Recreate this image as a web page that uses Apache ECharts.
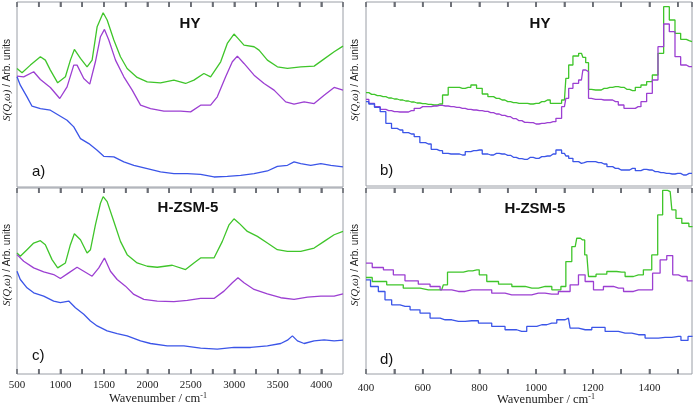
<!DOCTYPE html>
<html>
<head>
<meta charset="utf-8">
<script src="https://cdn.jsdelivr.net/npm/echarts@6/dist/echarts.min.js"></script>
<style>
html,body{margin:0;padding:0;background:#fff;}
#c{width:695px;height:406px;}
</style>
</head>
<body>
<div id="c"></div>
<script>
// ---- Data (wavenumber [cm-1], S(Q,w) arbitrary units) ----
// Panel a) HY, wide range
const aGreen = [[500,355],[558,342],[654,365],[769,390],[826,380],[884,350],[968,312],[1057,330],[1114,380],[1160,412],[1230,385],[1306,360],[1364,380],[1422,480],[1491,522],[1537,500],[1614,440],[1690,390],[1767,355],[1882,328],[1998,315],[2151,312],[2305,320],[2439,310],[2535,320],[2650,340],[2727,330],[2843,375],[2919,430],[2996,458],[3042,445],[3111,425],[3227,420],[3284,410],[3380,380],[3495,360],[3611,355],[3764,360],[3918,362],[4014,380],[4148,405],[4250,422]];
const aPurple = [[500,332],[577,330],[692,345],[769,322],[884,298],[992,265],[1076,300],[1153,365],[1191,365],[1268,325],[1337,308],[1402,375],[1460,450],[1506,472],[1556,440],[1633,380],[1729,330],[1825,290],[1921,245],[2036,235],[2190,227],[2382,227],[2497,225],[2612,245],[2727,245],[2804,270],[2900,330],[2977,375],[3035,392],[3111,370],[3227,335],[3342,310],[3457,290],[3591,255],[3687,248],[3803,255],[3918,250],[4033,275],[4148,298],[4250,290]];
const aBlue = [[500,330],[538,305],[615,270],[673,242],[769,235],[884,230],[980,215],[1076,200],[1153,180],[1230,145],[1326,130],[1422,110],[1498,92],[1614,90],[1729,75],[1844,65],[1998,55],[2151,45],[2305,40],[2459,40],[2612,38],[2766,30],[2919,32],[3073,35],[3227,40],[3380,48],[3495,62],[3611,65],[3687,75],[3764,70],[3879,65],[3995,70],[4110,65],[4250,60]];
// Panel c) H-ZSM-5, wide range
const cGreen = [[500,365],[538,355],[615,375],[692,395],[769,402],[826,390],[903,345],[968,320],[1057,335],[1114,390],[1160,423],[1230,405],[1306,365],[1345,375],[1402,450],[1460,515],[1491,535],[1537,520],[1614,460],[1690,400],[1767,360],[1882,335],[1998,325],[2113,322],[2286,328],[2439,315],[2535,335],[2612,350],[2766,350],[2862,400],[2939,450],[2996,468],[3054,455],[3150,430],[3265,415],[3380,395],[3495,375],[3611,370],[3764,370],[3918,380],[4033,400],[4148,420],[4250,430]];
const cPurple = [[500,360],[577,340],[692,320],[807,308],[922,300],[999,288],[1095,305],[1191,322],[1268,310],[1364,295],[1441,320],[1506,350],[1575,310],[1652,285],[1748,265],[1844,240],[1959,225],[2113,220],[2305,218],[2459,222],[2612,228],[2766,228],[2881,250],[2977,275],[3042,290],[3111,275],[3227,255],[3380,242],[3534,230],[3687,225],[3841,232],[3995,235],[4148,235],[4250,242]];
const cBlue = [[500,310],[538,285],[615,260],[692,245],[807,235],[922,220],[999,215],[1095,220],[1172,200],[1268,180],[1345,160],[1422,145],[1537,130],[1652,122],[1767,115],[1921,100],[2036,92],[2228,85],[2420,85],[2612,78],[2804,75],[2996,80],[3188,80],[3380,85],[3534,92],[3611,102],[3668,115],[3726,100],[3803,92],[3918,100],[4033,103],[4148,100],[4250,102]];
// Panel b) HY, low range (binned spectra)
const bWave = [400,420,440,460,480,500,520,540,560,580,600,620,640,660,680,700,720,740,760,780,800,820,840,860,880,900,920,940,960,980,1000,1020,1040,1060,1080,1100,1110,1120,1140,1160,1170,1180,1190,1200,1220,1240,1260,1280,1300,1320,1340,1360,1380,1400,1420,1440,1460,1480,1500,1520,1540,1550];
const bGreen = [280,275,271,268,264,261,258,255,252,249,247,245,243,246,273,296,296,293,296,303,293,276,268,263,258,253,250,248,248,246,248,253,258,248,248,258,323,363,390,398,386,370,290,288,288,293,296,298,296,290,286,296,303,313,333,398,538,498,458,440,436,433];
const bPurple = [260,248,238,230,226,223,222,222,226,233,238,238,240,242,240,238,236,233,230,228,226,224,220,216,212,208,202,196,191,190,186,188,190,193,203,238,263,293,308,318,348,343,263,260,260,258,258,253,243,233,233,238,253,278,318,418,486,463,388,363,358,358];
const bBlue = [253,246,236,223,188,173,168,160,156,148,130,126,110,106,98,96,96,93,103,106,108,96,93,98,96,92,86,82,80,86,83,88,90,96,108,98,90,83,73,68,70,73,73,73,70,66,58,53,48,48,53,46,50,48,43,40,38,36,38,33,38,38];
// Panel d) H-ZSM-5, low range
const dGreen = [[400,290],[444,278],[502,268],[561,258],[620,253],[667,253],[679,268],[696,306],[726,306],[761,310],[791,313],[808,298],[844,278],[891,270],[938,263],[985,258],[1032,263],[1079,253],[1096,263],[1114,338],[1138,383],[1149,408],[1164,403],[1179,358],[1191,293],[1232,300],[1267,308],[1302,306],[1326,293],[1361,298],[1396,313],[1420,358],[1438,478],[1455,552],[1473,548],[1485,493],[1502,468],[1526,453],[1552,443]];
const dPurple = [[400,333],[444,320],[479,313],[514,298],[561,280],[608,270],[644,263],[679,253],[726,248],[773,253],[820,253],[867,243],[914,238],[961,238],[1008,243],[1055,240],[1102,248],[1138,268],[1161,298],[1185,278],[1220,253],[1255,263],[1291,258],[1326,248],[1361,253],[1396,253],[1426,303],[1449,343],[1473,356],[1491,298],[1514,293],[1552,280]];
const dBlue = [[400,283],[432,263],[455,248],[479,223],[502,208],[538,203],[573,193],[608,183],[644,168],[679,163],[726,158],[773,160],[820,153],[867,143],[914,133],[949,128],[985,143],[1020,148],[1055,153],[1091,163],[1114,168],[1126,138],[1173,133],[1220,140],[1267,128],[1314,123],[1361,118],[1408,108],[1455,110],[1502,113],[1520,101],[1552,113]];

// Axis ticks (major + minor) and labels
const wideTicks = [750,1000,1250,1500,1750,2000,2250,2500,2750,3000,3250,3500,3750,4000];
const lowTicks = [500,600,700,800,900,1000,1100,1200,1300,1400,1500];
const wideLabels = [500,1000,1500,2000,2500,3000,3500,4000];
const lowLabels = [400,600,800,1000,1200,1400];

const panelTitles = ['HY', 'HY', 'H-ZSM-5', 'H-ZSM-5'];
const panelLetters = ['a)', 'b)', 'c)', 'd)'];
const wideRange = [500, 4250];
const lowRange = [400, 1550];

// ---- Styles ----
const GREEN = '#3fc52a', PURPLE = '#9c3fd2', BLUE = '#3b55e8';
const FRAME = '#9a9ea6';
const TICK = '#6a6d74';
const TICK_W = 1.6;
const TICK_L = 5;
const SERIF = '"Liberation Serif","DejaVu Serif",serif';
const SANS = '"Liberation Sans",Arial,sans-serif';

const chart = echarts.init(document.getElementById('c'), null, {renderer: 'canvas'});

const grids = [
  {left: 17, top: 2, width: 326, height: 185},
  {left: 366, top: 2, width: 326, height: 184},
  {left: 17, top: 188, width: 326, height: 186},
  {left: 366, top: 188, width: 326, height: 186}
].map(g => Object.assign(g, {show: true, borderColor: FRAME, borderWidth: 1, backgroundColor: 'transparent'}));

const yMax = [554, 552, 561, 559];
const isWide = [true, false, true, false];
const hasBottomTicks = [false, false, true, true];

function xMainFor(gi) {
  const wide = isWide[gi];
  const range = wide ? wideRange : lowRange;
  const labels = wide ? wideLabels : lowLabels;
  const show = hasBottomTicks[gi];
  return {
    type: 'value', gridIndex: gi, position: 'bottom', min: range[0], max: range[1], interval: wide ? 250 : 100,
    axisLine: {show: false, onZero: false},
    axisTick: {show: show, inside: true, length: TICK_L, lineStyle: {color: TICK, width: TICK_W}},
    axisLabel: {show: show, margin: wide ? 6 : 9, fontFamily: SERIF, fontSize: 11, color: '#222',
      showMaxLabel: false,
      formatter: v => (labels.indexOf(v) >= 0 ? String(v) : '')},
    splitLine: {show: false}
  };
}
function xTopFor(gi) {
  const wide = isWide[gi];
  const range = wide ? wideRange : lowRange;
  return {
    type: 'value', gridIndex: gi, position: 'top', min: range[0], max: range[1], interval: wide ? 250 : 100,
    axisLine: {show: false, onZero: false},
    axisTick: {show: true, inside: true, length: TICK_L, lineStyle: {color: TICK, width: TICK_W}},
    axisLabel: {show: false}, splitLine: {show: false}
  };
}
const xAxis = [];
[0, 1, 2, 3].forEach(gi => { xAxis.push(xMainFor(gi)); xAxis.push(xTopFor(gi)); });
const yAxis = yMax.map((m, i) => ({type: 'value', gridIndex: i, min: 0, max: m, show: false}));

function zip(xs, ys) { return xs.map((x, k) => [x, ys[k]]); }

function line(data, gi, color, step) {
  return {
    type: 'line', data: data, xAxisIndex: gi * 2, yAxisIndex: gi,
    showSymbol: false, symbol: 'none', step: step ? 'middle' : false,
    lineStyle: {color: color, width: 1.3}, silent: true, animation: false, clip: true
  };
}

// Inside ticks on top (and bottom for c, d), positioned through the axis scale
function tickSeries(gi) {
  const ticks = isWide[gi] ? wideTicks : lowTicks;
  const ymax = yMax[gi];
  const bottom = hasBottomTicks[gi];
  return {
    type: 'custom', xAxisIndex: gi * 2, yAxisIndex: gi, silent: true, clip: false, z: 5, animation: false,
    data: ticks.map(v => [v, 0]),
    encode: {x: 0, y: 1},
    renderItem: function (params, api) {
      const xv = api.value(0);
      const pTop = api.coord([xv, ymax]);
      const pBot = api.coord([xv, 0]);
      const x = pTop[0];
      const children = [{type: 'line', shape: {x1: x, y1: pTop[1], x2: x, y2: pTop[1] + TICK_L},
        style: {stroke: TICK, lineWidth: TICK_W, fill: null}}];
      if (bottom) {
        children.push({type: 'line', shape: {x1: x, y1: pBot[1], x2: x, y2: pBot[1] - TICK_L},
          style: {stroke: TICK, lineWidth: TICK_W, fill: null}});
      }
      return {type: 'group', children: children};
    }
  };
}

const series = [
  line(aGreen, 0, GREEN, false), line(aPurple, 0, PURPLE, false), line(aBlue, 0, BLUE, false),
  line(zip(bWave, bGreen), 1, GREEN, true), line(zip(bWave, bPurple), 1, PURPLE, true), line(zip(bWave, bBlue), 1, BLUE, true),
  line(cGreen, 2, GREEN, false), line(cPurple, 2, PURPLE, false), line(cBlue, 2, BLUE, false),
  line(dGreen, 3, GREEN, true), line(dPurple, 3, PURPLE, true), line(dBlue, 3, BLUE, true),
  tickSeries(0), tickSeries(1), tickSeries(2), tickSeries(3)
];

const titlePos = [[190, 24], [540, 24], [188, 208], [535, 209]];
const letterPos = [[32, 172], [380, 171], [32, 356], [380, 360]];
const ylabPos = [[7, 80], [355, 80], [7, 265], [355, 265]];
const xTitlePos = [[158, 399], [546, 400]];

const graphic = [];
for (let i = 0; i < 4; i++) {
  graphic.push({type: 'text', x: titlePos[i][0], y: titlePos[i][1], silent: true,
    style: {text: panelTitles[i], font: 'bold 15px ' + SANS, fill: '#111', align: 'center', verticalAlign: 'middle'}});
  graphic.push({type: 'text', x: letterPos[i][0], y: letterPos[i][1], silent: true,
    style: {text: panelLetters[i], font: '15px ' + SANS, fill: '#111', align: 'left', verticalAlign: 'middle'}});
  graphic.push({type: 'text', x: ylabPos[i][0], y: ylabPos[i][1], rotation: Math.PI / 2, silent: true,
    style: {text: '{i|S(Q,ω)}{n| / Arb. units}', align: 'center', verticalAlign: 'middle', fill: '#222',
      rich: {i: {fontFamily: SERIF, fontStyle: 'italic', fontSize: 11, fill: '#222'},
             n: {fontFamily: SANS, fontSize: 10, fill: '#222'}}}});
}
xTitlePos.forEach(p => {
  graphic.push({type: 'text', x: p[0], y: p[1], silent: true,
    style: {text: '{n|Wavenumber / cm}{s|-1}', align: 'center', verticalAlign: 'middle', fill: '#222',
      rich: {n: {fontFamily: SERIF, fontSize: 12.5, fill: '#222', lineHeight: 14},
             s: {fontFamily: SERIF, fontSize: 8, fill: '#222', verticalAlign: 'top', lineHeight: 14, padding: [0, 0, 6, 0]}}}});
});

chart.setOption({
  animation: false,
  backgroundColor: '#fff',
  grid: grids,
  xAxis: xAxis,
  yAxis: yAxis,
  series: series,
  graphic: graphic
});
</script>
</body>
</html>
